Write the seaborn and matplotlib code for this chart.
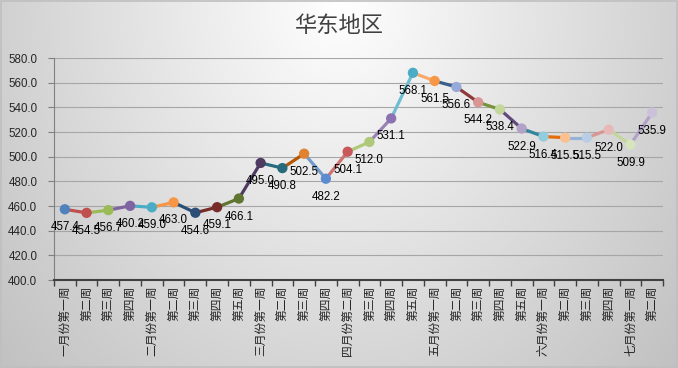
import numpy as np
import pandas as pd
import seaborn as sns
import matplotlib.pyplot as plt

# 数据
weeks = ['一月份第一周', '第二周', '第三周', '第四周',
         '二月份第一周', '第二周', '第三周', '第四周', '第五周',
         '三月份第一周', '第二周', '第三周', '第四周',
         '四月份第二周', '第三周', '第四周', '第五周',
         '五月份第一周', '第二周', '第三周', '第四周', '第五周',
         '六月份第一周', '第二周', '第三周', '第四周',
         '七月份第一周', '第二周']
prices = [457.4, 454.5, 456.7, 460.2, 459.0, 463.0, 454.6, 459.1, 466.1,
          495.0, 490.8, 502.5, 482.2, 504.1, 512.0, 531.1, 568.1, 561.5,
          556.6, 544.2, 538.4, 522.9, 516.4, 515.5, 515.5, 522.0, 509.9, 535.9]
yticks = [400, 420, 440, 460, 480, 500, 520, 540, 560, 580]

# 每个点的颜色 (Excel 依数据点着色)
marker_colors = ['#4F81BD', '#C0504D', '#9BBB59', '#8064A2', '#4BACC6', '#F79646',
                 '#2C4D75', '#772C2A', '#5F7530', '#4D3B62', '#276A7C', '#E0822F',
                 '#5B8BD0', '#C8585A', '#AFC97A', '#8C72B0', '#4BACC6', '#F79646',
                 '#95AADA', '#D99694', '#C3D69B', '#B3A2C7', '#93CDDD', '#FAC090',
                 '#B9CDE5', '#E6B9B8', '#D7E4BD', '#CCC1DA']
# 线段颜色 (第 i 段连接 i-1 和 i)
line_colors = [None, '#C0504D', '#9BBB59', '#8064A2', '#4BACC6', '#F79646',
               '#2C4D75', '#772C2A', '#5F7530', '#4D3B62', '#276A7C', '#B65708',
               '#729ACA', '#CD7371', '#AFC97A', '#9983B5', '#6FBDD1', '#F9AB6B',
               '#3A5F8B', '#8F3A38', '#77933C', '#604A7B', '#31859C', '#E46C0A',
               '#95B3D7', '#D99694', '#C3D69B', '#B3A2C7']

df = pd.DataFrame({'idx': range(len(prices)), 'price': prices, 'week': weeks})

sns.set_theme(style='white')
plt.rcParams['font.family'] = ['Noto Sans CJK SC', 'DejaVu Sans']

fig = plt.figure(figsize=(6.78, 3.68), dpi=100)

# 背景渐变
bg = fig.add_axes([0, 0, 1, 1], zorder=-10)
gx, gy = np.meshgrid(np.linspace(0, 1, 300), np.linspace(0, 1, 160))
d = np.sqrt(((gx - 0.5) / 0.5) ** 2 * 0.55 + gy ** 2 * 0.45)
g = np.clip(255 - 62 * d, 0, 255) / 255
bg.imshow(np.dstack([g, g, g]), aspect='auto', extent=[0, 1, 1, 0])
bg.set_xlim(0, 1)
bg.set_ylim(1, 0)
bg.axis('off')
bg.add_patch(plt.Rectangle((0.002, 0.003), 0.996, 0.994, fill=False,
                           ec='#BFBFBF', lw=1.2))

ax = fig.add_axes([0.0796, 0.239, 0.8984, 0.603])
ax.set_facecolor('none')

for i in range(1, len(df)):
    seg = df.iloc[i - 1:i + 1]
    sns.lineplot(data=seg, x='idx', y='price', color=line_colors[i],
                 lw=2.3, ax=ax, zorder=2)

sns.scatterplot(data=df, x='idx', y='price', hue='idx', palette=marker_colors,
                s=55, edgecolor='none', legend=False, ax=ax, zorder=3)

for i, v in enumerate(prices):
    ax.annotate(f'{v:.1f}', (i, v), xytext=(0, -13), textcoords='offset points',
                ha='center', va='center', fontsize=8.3, color='black',
                family=['Liberation Sans', 'DejaVu Sans'])

ax.set_xlim(-0.5, len(prices) - 0.5)
ax.set_ylim(400, 580)
ax.set_yticks(yticks)
ax.set_yticklabels([f'{v:.1f}' for v in yticks], fontsize=8.3,
                   family=['Liberation Sans', 'DejaVu Sans'])
ax.set_xticks(range(len(weeks)))
ax.set_xticklabels(weeks, rotation=90, fontsize=8.5, va='top')
ax.set_xticks(np.arange(-0.5, len(weeks)), minor=True)
ax.tick_params(axis='x', which='major', length=0, pad=4)
ax.tick_params(axis='x', which='minor', length=4, width=1, color='#404040',
               direction='out', bottom=True)
ax.tick_params(axis='y', length=4, width=0.8, color='#808080', left=True, pad=8)
ax.yaxis.grid(True, color='#A6A6A6', lw=0.8)
ax.set_axisbelow(True)
ax.set_xlabel('')
ax.set_ylabel('')
for s in ['top', 'right']:
    ax.spines[s].set_visible(False)
ax.spines['left'].set_color('#808080')
ax.spines['left'].set_linewidth(0.8)
ax.spines['bottom'].set_color('#404040')
ax.spines['bottom'].set_linewidth(1.5)

fig.text(0.5, 1 - 25 / 368, '华东地区', ha='center', va='center',
         fontsize=16, color='#404040')

fig.savefig('out.png', dpi=100)
